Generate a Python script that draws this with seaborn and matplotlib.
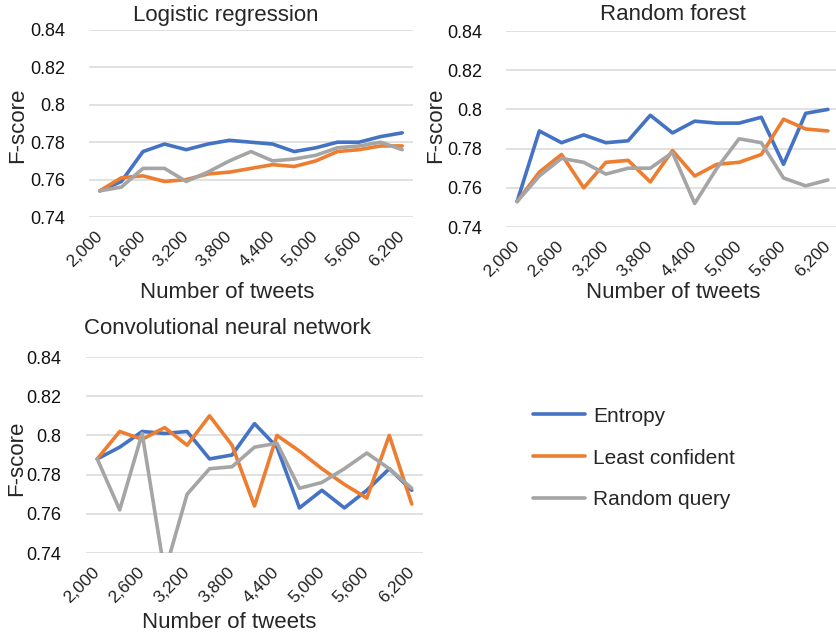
import pandas as pd
import numpy as np
import matplotlib
matplotlib.use("Agg")
import matplotlib.pyplot as plt
import seaborn as sns
from matplotlib.ticker import FuncFormatter

# Estilo tipo Excel: sin bordes, solo rejilla horizontal
sns.set_theme(style="white")
plt.rcParams['font.family'] = ['Liberation Sans', 'DejaVu Sans']

# Datos
tweets = [2000, 2300, 2600, 2900, 3200, 3500, 3800, 4100, 4400, 4700, 5000, 5300, 5600, 5900, 6200]
methods = ["Entropy", "Least confident", "Random query"]
colors = ["#4472C4", "#ED7D31", "#A5A5A5"]

lr_entropy = [0.754, 0.759, 0.775, 0.779, 0.776, 0.779, 0.781, 0.780, 0.779, 0.775, 0.777, 0.780, 0.780, 0.783, 0.785]
lr_least = [0.754, 0.761, 0.762, 0.759, 0.760, 0.763, 0.764, 0.766, 0.768, 0.767, 0.770, 0.775, 0.776, 0.778, 0.778]
lr_random = [0.754, 0.756, 0.766, 0.766, 0.759, 0.764, 0.770, 0.775, 0.770, 0.771, 0.773, 0.777, 0.778, 0.780, 0.776]

rf_entropy = [0.753, 0.789, 0.783, 0.787, 0.783, 0.784, 0.797, 0.788, 0.794, 0.793, 0.793, 0.796, 0.772, 0.798, 0.800]
rf_least = [0.753, 0.768, 0.777, 0.760, 0.773, 0.774, 0.763, 0.779, 0.766, 0.772, 0.773, 0.777, 0.795, 0.790, 0.789]
rf_random = [0.753, 0.766, 0.775, 0.773, 0.767, 0.770, 0.770, 0.778, 0.752, 0.770, 0.785, 0.783, 0.765, 0.761, 0.764]

cnn_entropy = [0.788, 0.794, 0.802, 0.801, 0.802, 0.788, 0.790, 0.806, 0.794, 0.763, 0.772, 0.763, 0.772, 0.783, 0.772]
cnn_least = [0.788, 0.802, 0.798, 0.804, 0.795, 0.810, 0.795, 0.764, 0.800, 0.792, 0.783, 0.775, 0.768, 0.800, 0.765]
cnn_random = [0.788, 0.762, 0.801, 0.730, 0.770, 0.783, 0.784, 0.794, 0.796, 0.773, 0.776, 0.783, 0.791, 0.783, 0.773]

y_ticks = [0.74, 0.76, 0.78, 0.80, 0.82, 0.84]
x_ticks = [2000, 2600, 3200, 3800, 4400, 5000, 5600, 6200]


def long_df(series):
    rows = []
    for name, vals in zip(methods, series):
        for t, v in zip(tweets, vals):
            rows.append({"Tweets": t, "F-score": v, "Method": name})
    return pd.DataFrame(rows)


W, H = 836, 637
fig = plt.figure(figsize=(W / 100, H / 100), dpi=100)

# (titulo, series, [izq, der, arriba, abajo] en px, pad ticks y, pos titulo, pos xlabel, pos ylabel)
panels = [
    ("Logistic regression", [lr_entropy, lr_least, lr_random], [89, 413, 30, 217], 17, (226, 15), (227, 293), (18, 125)),
    ("Random forest", [rf_entropy, rf_least, rf_random], [506, 839, 31, 227], 17, (673, 15), (673, 293), (436, 125)),
    ("Convolutional neural network", [cnn_entropy, cnn_least, cnn_random], [86, 423, 357, 553], 18, (227, 328), (229, 623), (17, 458)),
]

handles, labels = None, None
for title, series, (l, r, t, b), ypad, tpos, xlpos, ylpos in panels:
    ax = fig.add_axes([l / W, 1 - b / H, (r - l) / W, (b - t) / H])
    df = long_df(series)
    show_leg = title.startswith("Conv")
    sns.lineplot(data=df, x="Tweets", y="F-score", hue="Method", palette=colors,
                 linewidth=2.6, ax=ax, legend=show_leg)
    if show_leg:
        handles, labels = ax.get_legend_handles_labels()
        ax.get_legend().remove()

    ax.set_xlim(1850, 6350)
    ax.set_ylim(0.74, 0.84)
    ax.set_yticks(y_ticks)
    ax.set_xticks(x_ticks)
    ax.yaxis.set_major_formatter(FuncFormatter(lambda v, p: f"{v:g}"))
    ax.xaxis.set_major_formatter(FuncFormatter(lambda v, p: f"{int(v):,}"))
    ax.grid(axis="y", color="#D9D9D9", linewidth=1.1)
    ax.set_axisbelow(True)
    for s in ax.spines.values():
        s.set_visible(False)
    ax.tick_params(axis="y", length=0, pad=ypad, labelsize=13, labelcolor="#111111")
    ax.tick_params(axis="x", length=0, pad=12, labelsize=12.5, labelcolor="#222222")
    for lab in ax.get_xticklabels():
        lab.set_rotation(45)
        lab.set_ha("right")
        lab.set_va("center")
        lab.set_rotation_mode("anchor")

    # Titulo y etiquetas en posiciones fijas (px -> coords de ejes)
    def to_ax(px, py):
        return (px - l) / (r - l), (b - py) / (b - t)

    tx, ty = to_ax(*tpos)
    ax.text(tx, ty, title, transform=ax.transAxes, ha="center", va="center", fontsize=16)
    ax.set_xlabel("Number of tweets", fontsize=16)
    ax.xaxis.set_label_coords(*to_ax(*xlpos))
    ax.xaxis.label.set_va("center")
    ax.set_ylabel("F-score", fontsize=16)
    ax.yaxis.set_label_coords(*to_ax(*ylpos))
    ax.yaxis.label.set_va("center")

fig.legend(handles, labels, loc="center left", bbox_to_anchor=(533 / W, 1 - 458 / H),
           frameon=False, fontsize=15, handlelength=2.5, handletextpad=0.4,
           labelspacing=1.1, borderpad=0, borderaxespad=0)

plt.savefig("out.png", dpi=100)
